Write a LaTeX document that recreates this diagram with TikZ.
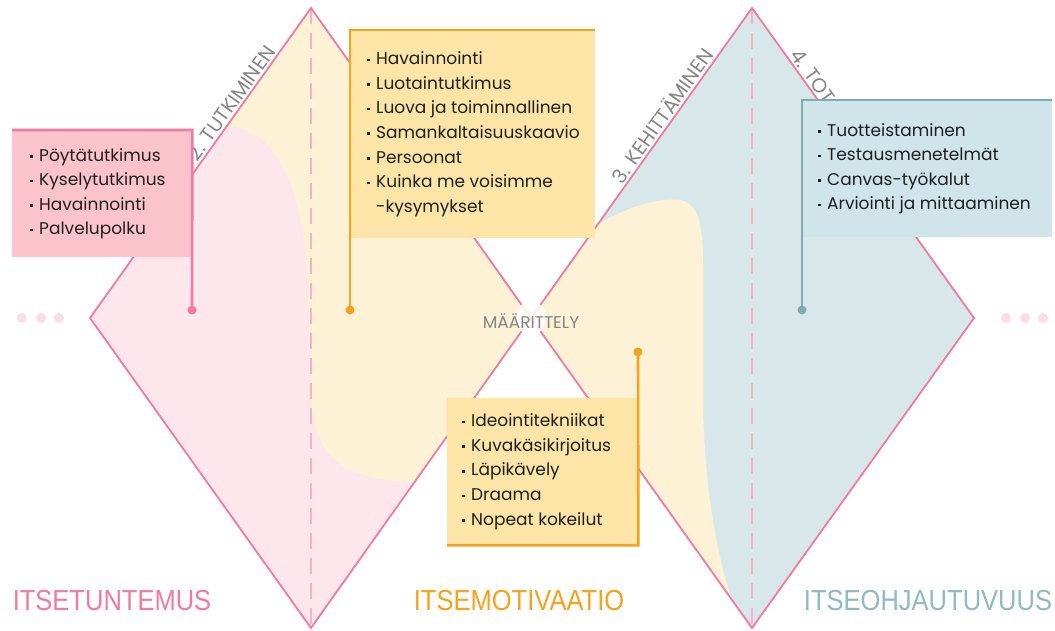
\documentclass[tikz,border=0pt]{standalone}
\usepackage{fontspec}
\setmainfont{Poppins}
\newfontfamily\labfont[FakeStretch=0.88]{Liberation Sans}
\usetikzlibrary{calc}
\definecolor{rosa}{HTML}{F07AA0}
\definecolor{rosalight}{HTML}{FDE7EC}
\definecolor{rosabox}{HTML}{FBC3CB}
\definecolor{rosadash}{HTML}{F5B3C4}
\definecolor{rosadot}{HTML}{FCDDE4}
\definecolor{cream}{HTML}{FDF2D6}
\definecolor{oranssi}{HTML}{F5A21F}
\definecolor{oranssibox}{HTML}{FDE4A7}
\definecolor{sini}{HTML}{D8E8EA}
\definecolor{sinibox}{HTML}{CFE5E9}
\definecolor{siniline}{HTML}{7FABB3}
\definecolor{sinitext}{HTML}{8FBAC1}
\definecolor{harmaa}{HTML}{858585}
\definecolor{ink}{HTML}{1F1F1F}
\newcommand\bul{\makebox[9pt][l]{\raisebox{3.4pt}{\rule{2.6pt}{2.6pt}}}}

\begin{document}
\begin{tikzpicture}[x=1pt,y=-1pt,
	edge/.style={draw=rosa, line width=1.8pt, line join=miter},
	boxshape/.style={anchor=north west, inner sep=0pt, draw=none},
	listtxt/.style={anchor=west, inner sep=0pt, align=left, text=ink, font=\fontsize{17}{24.6}\selectfont},
	accent/.style={line width=2.6pt},
	steplabel/.style={sloped, inner sep=2.5pt, text=harmaa, font=\fontsize{20}{20}\selectfont},
	biglab/.style={inner sep=0pt, font=\labfont\fontsize{29}{29}\selectfont}]
		%%%%% START %%%%%
		\useasboundingbox (0,0) rectangle (1055,631);
		
		\coordinate (T1) at (311,8);
		\coordinate (L1) at (90,318);
		\coordinate (B1) at (311,628);
		\coordinate (C) at (531,318);
		\coordinate (T2) at (752,8);
		\coordinate (R2) at (974,318);
		\coordinate (B2) at (752,628);
		
		% fills
		\fill[cream] (T1) -- (C) -- (B1) -- (L1) -- cycle;
		\fill[rosalight] (226,127) .. controls (275,125) and (305,190) .. (308,290) -- (311,395)
			.. controls (313,455) and (340,480) .. (413,482) -- (B1) -- (L1) -- cycle;
		\fill[sini] (T2) -- (R2) -- (B2) -- (C) -- cycle;
		\fill[cream] (C) -- (597,225) .. controls (630,205) and (660,198) .. (680,200)
			.. controls (700,203) and (703,230) .. (703,265) -- (703,400)
			.. controls (704,480) and (715,550) .. (732,600) -- cycle;
		
		\draw[rosadash, line width=1.2pt, dash pattern=on 16pt off 9pt] (T1) -- (B1);
		\draw[rosadash, line width=1.2pt, dash pattern=on 16pt off 9pt] (T2) -- (B2);
		
		\draw[edge] (T1) -- (C) -- (B1) -- (L1) -- cycle;
		\draw[edge] (T2) -- (R2) -- (B2) -- (C) -- cycle;
		
		% phase labels
		\path (L1) -- (T1) node[steplabel, pos=0.86, anchor=south east] (lab2) {2. TUTKIMINEN};
		\path (C) -- (T2) node[steplabel, pos=0.85, anchor=south east] (lab3) {3. KEHITTÄMINEN};
		\path (T2) -- (R2) node[steplabel, pos=0.15, anchor=south west] (lab4) {4. TOT};
		
		\fill[white, opacity=0.85] (C) ellipse (15pt and 17pt);
		\node[text=harmaa, font=\fontsize{17}{17}\selectfont, inner sep=0pt] (maar) at (531,321) {MÄÄRITTELY};
		
		% boxes
		\node[boxshape, fill=rosabox, minimum width=180pt, minimum height=127pt] (pbox) at (12,130) {};
		\node[listtxt] (ptxt) at ([xshift=18pt]pbox.west) {\bul Pöytätutkimus\\ \bul Kyselytutkimus\\ \bul Havainnointi\\ \bul Palvelupolku};
		\coordinate (pdot) at (192,310);
		\draw[accent, rosa] (pbox.north west) -- (pbox.north east) -- (pdot);
		\fill[rosa] (pdot) circle (4.5pt);
		
		\node[boxshape, fill=oranssibox, minimum width=245pt, minimum height=208pt] (obox) at (350,30) {};
		\node[listtxt] (otxt) at ([xshift=17pt]obox.west) {\bul Havainnointi\\ \bul Luotaintutkimus\\ \bul Luova ja toiminnallinen\\ \bul Samankaltaisuuskaavio\\ \bul Persoonat\\ \bul Kuinka me voisimme\\ \hspace*{9pt}-kysymykset};
		\coordinate (odot) at (350,310);
		\draw[accent, oranssi] (obox.north east) -- (obox.north west) -- (odot);
		\fill[oranssi] (odot) circle (4.5pt);
		
		\node[boxshape, fill=sinibox, minimum width=250pt, minimum height=137pt] (sbox) at (802,100) {};
		\node[listtxt] (stxt) at ([xshift=16pt]sbox.west) {\bul Tuotteistaminen\\ \bul Testausmenetelmät\\ \bul Canvas-työkalut\\ \bul Arviointi ja mittaaminen};
		\coordinate (sdot) at (802,310);
		\draw[accent, siniline] (sbox.north east) -- (sbox.north west) -- (sdot);
		\fill[siniline] (sdot) circle (4.5pt);
		
		\node[boxshape, fill=oranssibox, minimum width=191pt, minimum height=147pt] (ybox) at (447,398) {};
		\node[listtxt] (ytxt) at ([xshift=15pt]ybox.west) {\bul Ideointitekniikat\\ \bul Kuvakäsikirjoitus\\ \bul Läpikävely\\ \bul Draama\\ \bul Nopeat kokeilut};
		\coordinate (ydot) at (638,352);
		\draw[accent, oranssi] (ybox.south west) -- (ybox.south east) -- (ydot);
		\fill[oranssi] (ydot) circle (4.5pt);
		
		% side dots
		\foreach \x in {22,41,59,1006,1025,1043}
			\fill[rosadot] (\x,318) circle (5pt);
		
		% bottom labels
		\node[biglab, text=rosa] (itse1) at (112,601) {ITSETUNTEMUS};
		\node[biglab, text=oranssi] (itse2) at (519,601) {ITSEMOTIVAATIO};
		\node[biglab, text=sinitext] (itse3) at (928,601) {ITSEOHJAUTUVUUS};
		
		%%%%% END %%%%%
\end{tikzpicture}
\end{document}
